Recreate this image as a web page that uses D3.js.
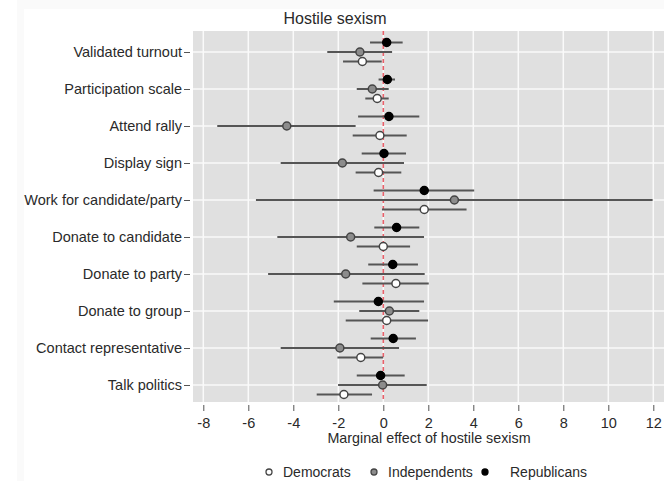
<!DOCTYPE html>
<html>
<head>
<meta charset="utf-8">
<script src="https://cdn.jsdelivr.net/npm/d3@7"></script>
<style>
  body { margin: 0; background: #fff; }
  text { font-family: "Liberation Sans", Arial, sans-serif; fill: #2a2a2a; }
</style>
</head>
<body>
<svg id="chart" width="664" height="481"></svg>
<script>
// outcomes, top to bottom
var outcomes = ["Validated turnout", "Participation scale", "Attend rally", "Display sign",
  "Work for candidate/party", "Donate to candidate", "Donate to party", "Donate to group",
  "Contact representative", "Talk politics"];

var groups = ["Republicans", "Independents", "Democrats"];
var groupFill = ["#000000", "#8c8c8c", "#ffffff"];
var groupOffset = [-9.5, 0, 9.5];

// marginal effect, lower and upper bound per outcome
var repEst = [0.15, 0.18, 0.25, 0.03, 1.82, 0.59, 0.42, -0.22, 0.44, -0.12];
var repLo  = [-0.59, -0.21, -1.12, -0.96, -0.43, -0.40, -0.67, -2.20, -0.56, -1.18];
var repHi  = [0.86, 0.52, 1.60, 1.01, 4.04, 1.60, 1.54, 1.81, 1.45, 0.95];

var indEst = [-1.04, -0.49, -4.29, -1.82, 3.16, -1.45, -1.67, 0.27, -1.93, -0.03];
var indLo  = [-2.49, -1.18, -7.38, -4.56, -5.66, -4.71, -5.12, -1.07, -4.56, -2.01];
var indHi  = [0.39, 0.24, -1.23, 0.92, 11.97, 1.81, 1.84, 1.60, 0.70, 1.93];

var demEst = [-0.93, -0.27, -0.15, -0.21, 1.82, 0.00, 0.56, 0.15, -1.00, -1.75];
var demLo  = [-1.79, -0.80, -1.36, -1.23, -0.06, -1.18, -0.93, -1.67, -2.04, -2.96];
var demHi  = [-0.07, 0.24, 1.04, 0.80, 3.70, 1.19, 2.02, 1.99, 0.00, -0.50];

var xTicks = [-8, -6, -4, -2, 0, 2, 4, 6, 8, 10, 12];
var legendOrder = ["Democrats", "Independents", "Republicans"];

var svg = d3.select("#chart");
var FONT = "'Liberation Sans', Arial, sans-serif";

// faint outer frame like the exported graph
svg.append("rect").attr("x", 17).attr("y", 0).attr("width", 647).attr("height", 481).attr("fill", "#fafafa");
svg.append("rect").attr("x", 24).attr("y", 9).attr("width", 640).attr("height", 472).attr("fill", "#ffffff");

var panel = {left: 193, right: 664, top: 31, bottom: 402};

var x = d3.scaleLinear().domain([-8, 12]).range([203.3, 653.3]);
var y = d3.scalePoint().domain(outcomes).range([52, 385]);

svg.append("rect")
  .attr("x", panel.left).attr("y", panel.top)
  .attr("width", panel.right - panel.left).attr("height", panel.bottom - panel.top)
  .attr("fill", "#e0e0e0");

// grid
svg.append("g").selectAll("line").data(xTicks).enter().append("line")
  .attr("x1", function(d) { return x(d); }).attr("x2", function(d) { return x(d); })
  .attr("y1", panel.top).attr("y2", panel.bottom)
  .attr("stroke", "#fafafa").attr("stroke-width", 1.5);

svg.append("g").selectAll("line").data(outcomes).enter().append("line")
  .attr("x1", panel.left).attr("x2", panel.right)
  .attr("y1", function(d) { return y(d); }).attr("y2", function(d) { return y(d); })
  .attr("stroke", "#fafafa").attr("stroke-width", 1.5);

// axes
var xAxis = svg.append("g")
  .attr("transform", "translate(0," + (panel.bottom + 3) + ")")
  .call(d3.axisBottom(x).tickValues(xTicks).tickSize(6).tickPadding(7)
    .tickFormat(function(d) { return String(d); }));
xAxis.select(".domain").remove();
xAxis.selectAll("line").attr("stroke", "#555");
xAxis.selectAll("text").attr("font-size", 14.5).attr("fill", "#2a2a2a").style("font-family", FONT);

var yAxis = svg.append("g")
  .attr("transform", "translate(" + (panel.left - 3) + ",0)")
  .call(d3.axisLeft(y).tickSize(6).tickPadding(2));
yAxis.select(".domain").remove();
yAxis.selectAll("line").attr("stroke", "#555");
yAxis.selectAll("text").attr("font-size", 14.5).attr("fill", "#2a2a2a").style("font-family", FONT);

// zero line
svg.append("line")
  .attr("x1", x(0)).attr("x2", x(0))
  .attr("y1", panel.top).attr("y2", panel.bottom)
  .attr("stroke", "#e8606a").attr("stroke-width", 1.6).attr("stroke-dasharray", "4,3");

var series = [
  {est: repEst, lo: repLo, hi: repHi},
  {est: indEst, lo: indLo, hi: indHi},
  {est: demEst, lo: demLo, hi: demHi}
];

series.forEach(function(s, gi) {
  var rows = outcomes.map(function(o, i) {
    return {outcome: o, est: s.est[i], lo: s.lo[i], hi: s.hi[i]};
  });
  var g = svg.append("g");
  g.selectAll("line").data(rows).enter().append("line")
    .attr("x1", function(d) { return x(d.lo); })
    .attr("x2", function(d) { return x(d.hi); })
    .attr("y1", function(d) { return y(d.outcome) + groupOffset[gi]; })
    .attr("y2", function(d) { return y(d.outcome) + groupOffset[gi]; })
    .attr("stroke", "#555").attr("stroke-width", 2);
  g.selectAll("circle").data(rows).enter().append("circle")
    .attr("cx", function(d) { return x(d.est); })
    .attr("cy", function(d) { return y(d.outcome) + groupOffset[gi]; })
    .attr("r", 4)
    .attr("fill", groupFill[gi])
    .attr("stroke", gi == 0 ? "#000" : "#444").attr("stroke-width", 1.5);
});

// title & axis title
svg.append("text").attr("x", 335).attr("y", 24).attr("text-anchor", "middle")
  .attr("font-size", 16).text("Hostile sexism");

svg.append("text").attr("x", 429).attr("y", 443).attr("text-anchor", "middle")
  .attr("font-size", 14.3).text("Marginal effect of hostile sexism");

// legend
var legendX = [269, 374, 485];
var lg = svg.append("g").selectAll("g").data(legendOrder).enter().append("g")
  .attr("transform", function(d, i) { return "translate(" + legendX[i] + ",472)"; });
lg.append("circle").attr("r", 3)
  .attr("fill", function(d) { return groupFill[groups.indexOf(d)]; })
  .attr("stroke", function(d) { return d == "Republicans" ? "#000" : "#444"; })
  .attr("stroke-width", 1.3);
lg.append("text").attr("x", function(d) { return d == "Republicans" ? 25 : 14; }).attr("y", 5)
  .attr("font-size", 14).text(function(d) { return d; });
</script>
</body>
</html>
